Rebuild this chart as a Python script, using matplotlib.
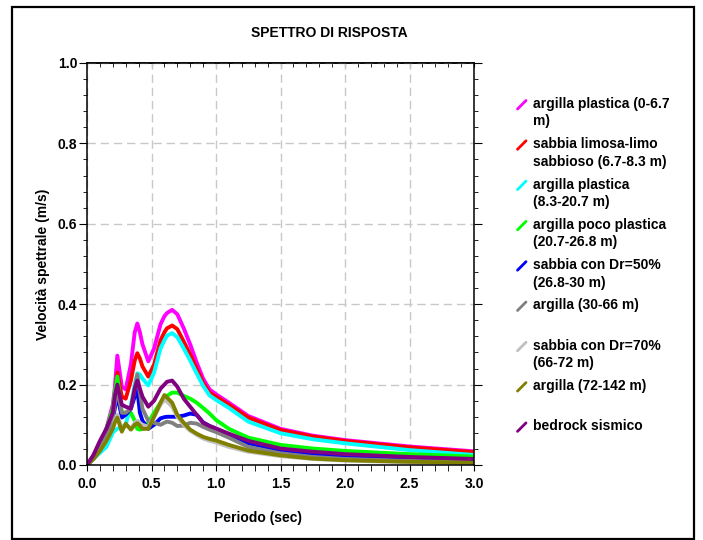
import numpy as np
import matplotlib
matplotlib.use("Agg")
from matplotlib import pyplot as plt
from matplotlib.lines import Line2D
from matplotlib.patches import Rectangle
from matplotlib.ticker import MultipleLocator

plt.rcParams['font.family'] = ['Liberation Sans', 'DejaVu Sans']
plt.rcParams['font.weight'] = 'bold'

# periodi (sec)
periodo = [0, 0.05, 0.1, 0.15, 0.2, 0.215, 0.235, 0.27, 0.3, 0.34, 0.37, 0.39, 0.41, 0.43, 0.475,
           0.52, 0.57, 0.6, 0.62, 0.66, 0.7, 0.75, 0.8, 0.85, 0.9, 0.95, 1.0, 1.1, 1.25,
           1.5, 1.75, 2.0, 2.5, 3.0]

# velocita spettrali (m/s)
argilla_plastica_1 = [0, 0.02, 0.05, 0.09, 0.15, 0.19, 0.272, 0.195, 0.188, 0.25, 0.33, 0.352, 0.33, 0.30, 0.258,
                      0.29, 0.35, 0.37, 0.378, 0.386, 0.375, 0.34, 0.30, 0.255, 0.215, 0.188, 0.176, 0.155, 0.122,
                      0.09, 0.073, 0.062, 0.046, 0.034]
sabbia_limosa = [0, 0.02, 0.05, 0.085, 0.13, 0.16, 0.23, 0.17, 0.165, 0.21, 0.26, 0.278, 0.265, 0.245, 0.22,
                 0.25, 0.31, 0.33, 0.34, 0.347, 0.338, 0.307, 0.275, 0.24, 0.205, 0.18, 0.17, 0.15, 0.118,
                 0.087, 0.071, 0.06, 0.044, 0.032]
argilla_plastica_2 = [0, 0.015, 0.03, 0.045, 0.08, 0.085, 0.09, 0.095, 0.1, 0.15, 0.2, 0.228, 0.225, 0.215, 0.198,
                      0.23, 0.29, 0.31, 0.322, 0.328, 0.318, 0.29, 0.26, 0.228, 0.197, 0.173, 0.162, 0.142, 0.108,
                      0.079, 0.064, 0.054, 0.037, 0.025]
argilla_poco_plastica = [0, 0.02, 0.05, 0.09, 0.14, 0.18, 0.22, 0.13, 0.13, 0.13, 0.11, 0.09, 0.088, 0.09, 0.105,
                         0.13, 0.155, 0.165, 0.172, 0.18, 0.18, 0.172, 0.165, 0.155, 0.142, 0.128, 0.112, 0.09, 0.068,
                         0.05, 0.041, 0.035, 0.027, 0.021]
sabbia_dr50 = [0, 0.015, 0.04, 0.07, 0.11, 0.14, 0.175, 0.118, 0.125, 0.14, 0.17, 0.19, 0.13, 0.11, 0.09,
               0.1, 0.116, 0.119, 0.12, 0.12, 0.12, 0.123, 0.128, 0.125, 0.106, 0.097, 0.09, 0.075, 0.054,
               0.037, 0.028, 0.022, 0.016, 0.013]
argilla_30_66 = [0, 0.015, 0.04, 0.075, 0.12, 0.15, 0.19, 0.13, 0.13, 0.14, 0.19, 0.225, 0.18, 0.14, 0.11,
                 0.105, 0.1, 0.105, 0.108, 0.105, 0.097, 0.098, 0.105, 0.103, 0.095, 0.088, 0.082, 0.068, 0.045,
                 0.029, 0.02, 0.015, 0.01, 0.008]
sabbia_dr70 = [0, 0.015, 0.035, 0.06, 0.09, 0.11, 0.125, 0.09, 0.1, 0.09, 0.105, 0.11, 0.105, 0.1, 0.095,
               0.12, 0.15, 0.162, 0.158, 0.145, 0.12, 0.1, 0.085, 0.075, 0.066, 0.06, 0.056, 0.045, 0.033,
               0.022, 0.015, 0.011, 0.007, 0.005]
argilla_72_142 = [0, 0.015, 0.035, 0.06, 0.09, 0.105, 0.118, 0.083, 0.103, 0.088, 0.1, 0.104, 0.098, 0.09, 0.09,
                  0.12, 0.155, 0.174, 0.168, 0.155, 0.125, 0.105, 0.088, 0.078, 0.07, 0.065, 0.061, 0.05, 0.036,
                  0.024, 0.016, 0.012, 0.008, 0.006]
bedrock = [0, 0.025, 0.06, 0.09, 0.13, 0.17, 0.2, 0.15, 0.145, 0.14, 0.19, 0.21, 0.19, 0.17, 0.145,
           0.16, 0.19, 0.2, 0.207, 0.21, 0.195, 0.165, 0.145, 0.125, 0.105, 0.097, 0.091, 0.078, 0.06,
           0.041, 0.033, 0.027, 0.02, 0.015]

serie = [argilla_plastica_1, sabbia_limosa, argilla_plastica_2, argilla_poco_plastica,
         sabbia_dr50, argilla_30_66, sabbia_dr70, argilla_72_142, bedrock]
etichette = ["argilla plastica (0-6.7\nm)", "sabbia limosa-limo\nsabbioso (6.7-8.3 m)",
             "argilla plastica\n(8.3-20.7 m)", "argilla poco plastica\n(20.7-26.8 m)",
             "sabbia con Dr=50%\n(26.8-30 m)", "argilla (30-66 m)",
             "sabbia con Dr=70%\n(66-72 m)", "argilla (72-142 m)", "bedrock sismico"]
colori = ['#ff00ff', '#ff0000', '#00ffff', '#00ff00', '#0000ff', '#808080',
          '#c0c0c0', '#808000', '#800080']

W, H = 703, 540
fig = plt.figure(figsize=(W / 100, H / 100), dpi=100)

def fx(x):
    return x / W

def fy(y):
    return 1 - y / H

ax = fig.add_axes([fx(87), fy(465), fx(474) - fx(87), fy(63) - fy(465)])

for valori, col in zip(serie, colori):
    ax.plot(periodo, valori, color=col, lw=2.8, solid_joinstyle='round', solid_capstyle='round')

ax.set_xlim(0, 3.0)
ax.set_ylim(0, 1.0)
ax.xaxis.set_major_locator(MultipleLocator(0.5))
ax.xaxis.set_minor_locator(MultipleLocator(0.1))
ax.yaxis.set_major_locator(MultipleLocator(0.2))
ax.yaxis.set_minor_locator(MultipleLocator(0.04))
ax.grid(True, which='major', color='#c8c8c8', linestyle=(0, (6, 3.5)), lw=1.0)
ax.set_axisbelow(True)

for s in ax.spines.values():
    s.set_linewidth(1.1)

ax.tick_params(axis='x', which='both', direction='out', bottom=True, top=False,
               labelsize=10, pad=5, length=4)
ax.tick_params(axis='y', which='both', direction='out', left=True, right=True, labelsize=10, pad=1)
ax.tick_params(axis='y', which='major', length=6)
ax.tick_params(axis='y', which='minor', length=3)
ax.xaxis.set_major_formatter(plt.FormatStrFormatter('%.1f'))
ax.yaxis.set_major_formatter(plt.FormatStrFormatter('%.1f'))

sec = ax.secondary_xaxis('top')
sec.xaxis.set_major_locator(MultipleLocator(0.5))
sec.xaxis.set_minor_locator(MultipleLocator(0.1))
sec.tick_params(axis='x', which='both', direction='in', length=3, labeltop=False)
sec.spines['top'].set_linewidth(1.1)

ax.set_xlabel('Periodo (sec)', fontsize=10, fontweight='bold')
ax.xaxis.set_label_coords((258 - 87) / 387, -0.115)
ax.set_ylabel('Velocità spettrale (m/s)', fontsize=10, fontweight='bold')
ax.yaxis.set_label_coords(-0.095, 0.5)

fig.text(fx(329), fy(33), 'SPETTRO DI RISPOSTA', ha='center', va='center',
         fontsize=10, fontweight='bold')

# legenda: ogni riga piazzata sulla sua baseline
for i, (lab, col) in enumerate(zip(etichette, colori)):
    yc = 103 + 40.3 * i
    fig.add_artist(Line2D([fx(517.5), fx(526)], [fy(yc + 6), fy(yc - 2.5)], color=col,
                          lw=2.0, solid_capstyle='round'))
    for j, riga in enumerate(lab.split('\n')):
        fig.text(fx(533), fy(yc + 5 + 17.5 * j), riga, ha='left', va='baseline',
                 fontsize=10, fontweight='bold')

fig.add_artist(Rectangle((fx(12), fy(539)), fx(694) - fx(12), fy(7) - fy(539),
                         fill=False, edgecolor='black', lw=1.6))

fig.savefig('out.png', dpi=100)
